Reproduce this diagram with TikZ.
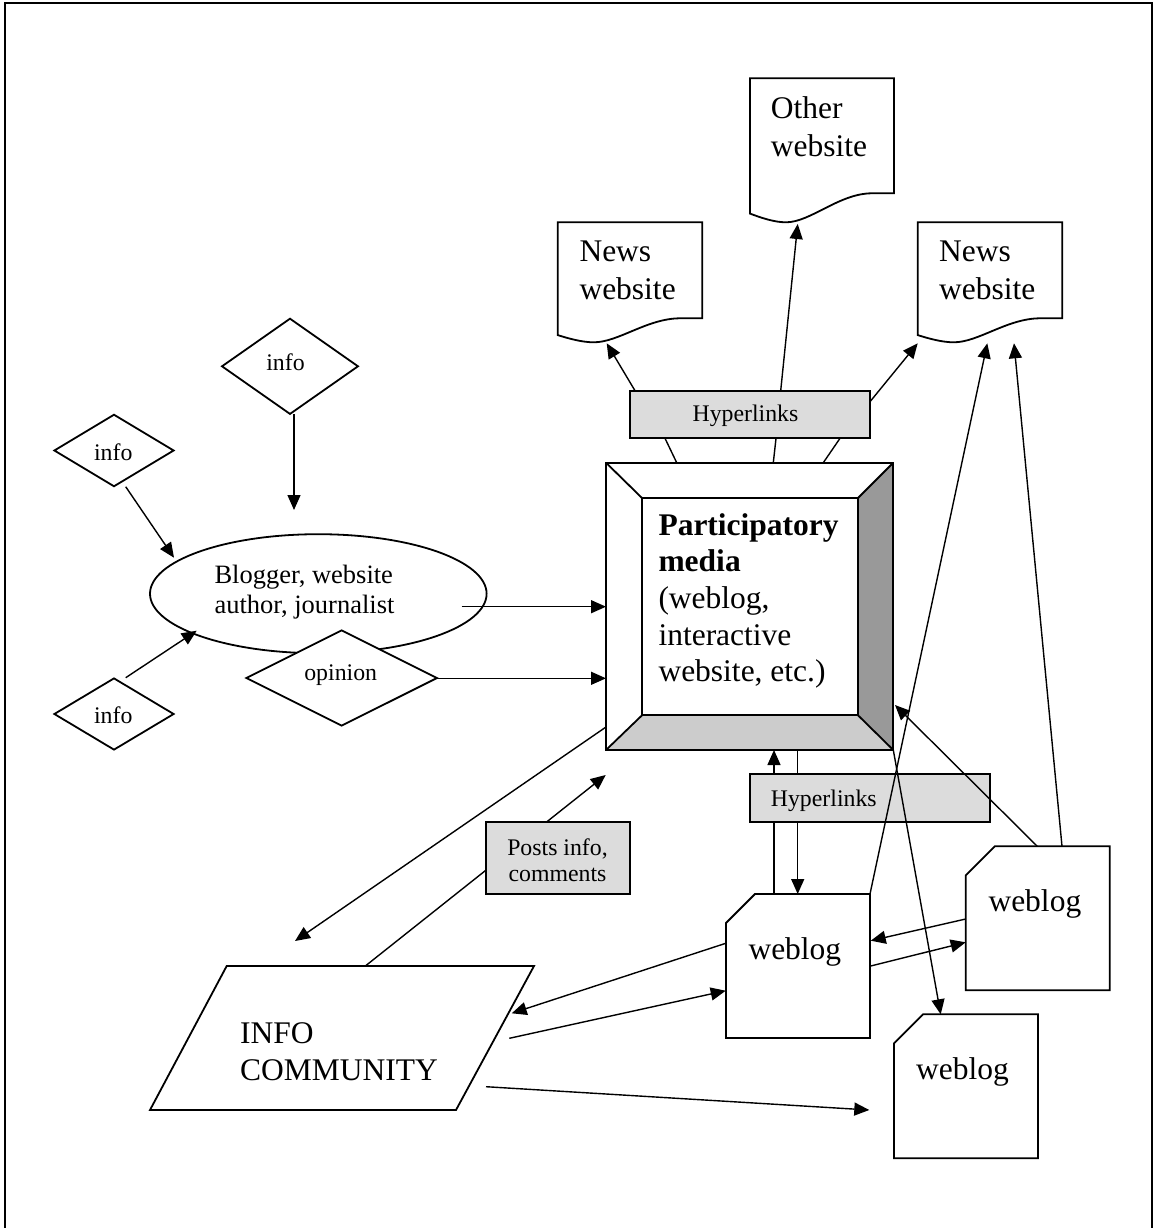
\documentclass[tikz,border=0pt]{standalone}
\usepackage{fontspec}
\setmainfont{Liberation Serif}
\usetikzlibrary{arrows.meta,shapes.geometric}
\definecolor{hypgray}{RGB}{220,220,220}
\definecolor{bevdark}{RGB}{153,153,153}
\definecolor{bevlight}{RGB}{204,204,204}
\tikzset{
  shp/.style={draw, line width=1.8pt, fill=white},
  lin/.style={line width=1.4pt},
  con/.style={line width=1.4pt, -{Triangle[length=15pt,width=13pt]}},
  bigtxt/.style={font=\fontsize{31.5}{37.5}\selectfont, align=left, inner sep=0pt, anchor=base west},
  midtxt/.style={font=\fontsize{26.5}{30}\selectfont, align=left, inner sep=0pt, anchor=base west},
  smalltxt/.style={font=\fontsize{23.8}{26.7}\selectfont, align=center, inner sep=0pt, anchor=base},
  hypbox/.style={draw, line width=1.8pt, fill=hypgray},
  dia/.style={diamond, draw, line width=1.8pt, fill=white, inner sep=0pt},
}
% document shape: L T W H(low point) A(wave amplitude)
\newcommand\docshape[5]{%
  \filldraw[shp] ({#1},{#2}) -- ({#1+#3},{#2}) -- ({#1+#3},{#2+#4-#5}) -- ({#1+#3-22},{#2+#4-#5})
    .. controls ({#1+0.62*#3},{#2+#4-#5}) and ({#1+0.42*#3},{#2+#4}) .. ({#1+0.25*#3},{#2+#4})
    .. controls ({#1+0.17*#3},{#2+#4}) and ({#1+0.08*#3},{#2+#4-0.15*#5}) .. ({#1},{#2+#4-0.3*#5}) -- cycle;}
% weblog shape: L T
\newcommand\weblogshape[2]{%
  \filldraw[shp] ({#1+29},{#2}) -- ({#1+144},{#2}) -- ({#1+144},{#2+144}) -- ({#1},{#2+144}) -- ({#1},{#2+29}) -- cycle;}
\begin{document}
\begin{tikzpicture}[x=1pt,y=-1pt]
\useasboundingbox (0,0) rectangle (1156,1228);
% frame
\draw[line width=2pt] (5,1230) -- (5,3.5) -- (1151.5,3.5) -- (1151.5,1230);

% ---------- coordinates ----------
\coordinate (infoTopOut) at (294,414.3);
\coordinate (blogTopIn) at (294,510);
\coordinate (infoLOut) at (125.7,486.7);
\coordinate (blogLIn) at (174,557.7);
\coordinate (infoBOut) at (125.7,677.7);
\coordinate (blogBIn) at (196.7,630.7);
\coordinate (blogOut) at (461.7,606.7);
\coordinate (pmIn1) at (606,606.7);
\coordinate (opOut) at (437.3,678.3);
\coordinate (pmIn2) at (606,678.3);
\coordinate (pmOutL) at (606,727);
\coordinate (comIn) at (295,941);
\coordinate (comTop) at (365.7,965.7);
\coordinate (pmIn3) at (605.7,775);
\coordinate (hA) at (635,390.7);
\coordinate (newsLIn) at (606.7,343.3);
\coordinate (hB) at (780.7,390.7);
\coordinate (otherIn) at (797.7,224);
\coordinate (hC) at (870,401.7);
\coordinate (newsRIn) at (917.7,343.3);
\coordinate (hD) at (665,438.3);
\coordinate (pmT1) at (676.7,462.7);
\coordinate (hE) at (776,438.3);
\coordinate (pmT2) at (773.3,462.7);
\coordinate (hF) at (840,438.3);
\coordinate (pmT3) at (823.3,462.7);
\coordinate (wmTop1) at (774,894);
\coordinate (pmB1) at (774,750);
\coordinate (pmB2) at (797.7,750);
\coordinate (wmTop2) at (797.7,894);
\coordinate (wmTR) at (870,894);
\coordinate (newsRIn2) at (987.3,343.3);
\coordinate (wrTop1) at (1062,846.3);
\coordinate (newsRIn3) at (1014,343.3);
\coordinate (wrTop2) at (1037.3,846.3);
\coordinate (pmR) at (895,705);
\coordinate (pmBR) at (893.3,750);
\coordinate (wbTop) at (940.7,1014.3);
\coordinate (wrL1) at (965.7,919);
\coordinate (wmR1) at (870.7,940.7);
\coordinate (wmR2) at (870.7,966);
\coordinate (wrL2) at (965.7,942.3);
\coordinate (wmL1) at (725.7,943.3);
\coordinate (comR1) at (511.7,1013.3);
\coordinate (comR2) at (509.3,1038.3);
\coordinate (wmL2) at (725.7,990.7);
\coordinate (comR3) at (486,1086.7);
\coordinate (wbL) at (869.3,1110);

% ---------- lines behind boxes ----------
\draw[con] (comTop) -- (pmIn3);
\draw[con] (wmTop1) -- (pmB1);
\draw[con] (pmB2) -- (wmTop2);

% ---------- websites ----------
\docshape{750}{78.3}{144}{144}{29}
\node[bigtxt] (otherTxt) at (770.7,156.5) {Other\\website};
\docshape{557.7}{222.3}{144.6}{120}{24}
\node[bigtxt] (newsLTxt) at (579.3,299.3) {News\\website};
\docshape{917.7}{222.3}{144.6}{120}{24}
\node[bigtxt] (newsRTxt) at (939,299.3) {News\\website};

% ---------- top hyperlinks ----------
\draw[hypbox] (630,390.7) rectangle (870,438.3);
\node[smalltxt] (hypTop) at (745.5,421.7) {Hyperlinks};
\draw[con] (hA) -- (newsLIn);
\draw[con] (hB) -- (otherIn);
\draw[con] (hC) -- (newsRIn);
\draw[lin] (hD) -- (pmT1);
\draw[lin] (hE) -- (pmT2);
\draw[lin] (hF) -- (pmT3);

% ---------- participatory media ----------
\fill[bevdark] (893.3,462.7) -- (857.7,498.3) -- (857.7,715) -- (893.3,750) -- cycle;
\fill[bevlight] (642.3,715) -- (857.7,715) -- (893.3,750) -- (606,750) -- cycle;
\draw[line width=1.8pt] (606,462.7) rectangle (893.3,750);
\draw[line width=1.8pt] (642.3,498.3) rectangle (857.7,715);
\draw[line width=1.8pt] (606,462.7) -- (642.3,498.3) (893.3,462.7) -- (857.7,498.3)
  (606,750) -- (642.3,715) (893.3,750) -- (857.7,715);
\node[bigtxt, font=\fontsize{31.5}{36.7}\selectfont] (pmTxt) at (658.3,681.8)
  {\textbf{Participatory}\\\textbf{media}\\(weblog,\\interactive\\website, etc.)};

% ---------- left part ----------
\node[dia, minimum width=136.7pt, minimum height=96pt] (infoTop) at (290,366.3) {};
\node[smalltxt] (infoTopTxt) at (285.5,370) {info};
\node[dia, minimum width=120pt, minimum height=72.3pt] (infoL) at (114,450.5) {};
\node[smalltxt] (infoLTxt) at (113.3,460) {info};
\node[dia, minimum width=120pt, minimum height=72pt] (infoB) at (114,714) {};
\node[smalltxt] (infoBTxt) at (113.3,723.3) {info};
\node[ellipse, draw, line width=1.8pt, fill=white, minimum width=336.6pt, minimum height=119pt, inner sep=0pt] (blogger) at (318.3,593.7) {};
\node[midtxt] (bloggerTxt) at (214.3,613.3) {Blogger, website\\author, journalist};
\node[dia, minimum width=191.3pt, minimum height=96pt] (opinion) at (341.7,678) {};
\node[smalltxt] (opinionTxt) at (340.7,680) {opinion};

\draw[con] (infoTopOut) -- (blogTopIn);
\draw[con] (infoLOut) -- (blogLIn);
\draw[con] (infoBOut) -- (blogBIn);
\draw[con] (blogOut) -- (pmIn1);
\draw[con] (opOut) -- (pmIn2);

% ---------- info community ----------
\draw[con] (pmOutL) -- (comIn);
\draw[hypbox] (485.7,822.3) rectangle (630,894.3);
\node[smalltxt] (postsTxt) at (557.5,881.7) {Posts info,\\comments};
\filldraw[shp] (226.7,966) -- (534,966) -- (456,1110) -- (150,1110) -- cycle;
\node[bigtxt] (comTxt) at (240,1080.7) {INFO\\COMMUNITY};

% ---------- bottom hyperlinks ----------
\draw[hypbox] (750,774.3) rectangle (990,822.3);
\node[smalltxt, anchor=base west] (hypBot) at (770.7,806) {Hyperlinks};

% ---------- weblogs ----------
\weblogshape{726}{894}
\node[bigtxt] (wmTxt) at (748.3,959.3) {weblog};
\weblogshape{965.7}{846.3}
\node[bigtxt] (wrTxt) at (988.3,911) {weblog};
\weblogshape{894}{1014.3}
\node[bigtxt] (wbTxt) at (916,1079) {weblog};

% ---------- connectors over boxes ----------
\draw[con] (wmTR) -- (newsRIn2);
\draw[con] (wrTop1) -- (newsRIn3);
\draw[con] (wrTop2) -- (pmR);
\draw[con] (pmBR) -- (wbTop);
\draw[con] (wrL1) -- (wmR1);
\draw[con] (wmR2) -- (wrL2);
\draw[con] (wmL1) -- (comR1);
\draw[con] (comR2) -- (wmL2);
\draw[con] (comR3) -- (wbL);
\end{tikzpicture}
\end{document}
